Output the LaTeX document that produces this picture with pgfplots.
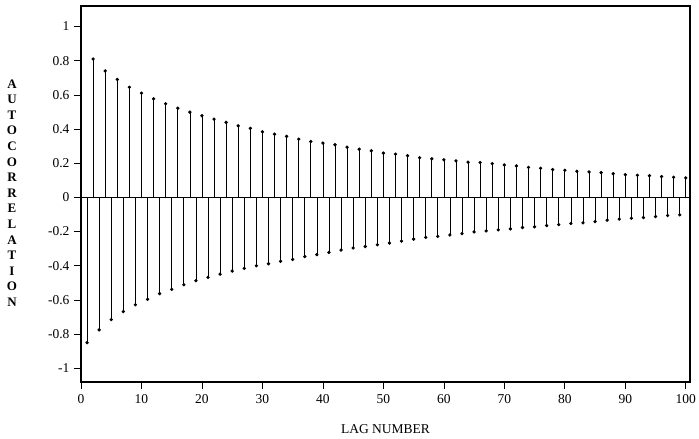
\documentclass[border=0pt]{standalone}
\usepackage{fontspec}
\setmainfont{Liberation Serif}
\usepackage{pgfplots}
\pgfplotsset{compat=1.18}
\begin{document}
\begin{tikzpicture}
\path[use as bounding box] (0,0) rectangle (699pt,439pt);
\begin{axis}[
  at={(81pt,57pt)}, anchor=south west,
  scale only axis, width=609pt, height=376pt,
  xmin=0, xmax=100.7, ymin=-1.08, ymax=1.12,
  axis line style={line width=1.1pt},
  tick pos=left, tick align=outside,
  major tick length=7pt,
  every tick/.style={black, line width=0.7pt},
  xtick={0,10,20,30,40,50,60,70,80,90,100},
  xticklabels={0,10,20,30,40,50,60,70,80,90,100},
  ytick={-1,-0.8,-0.6,-0.4,-0.2,0,0.2,0.4,0.6,0.8,1},
  yticklabels={-1,-0.8,-0.6,-0.4,-0.2,0,0.2,0.4,0.6,0.8,1},
  ticklabel style={font=\fontsize{13.5}{15}\selectfont},
  xticklabel style={yshift=-2pt},
  yticklabel style={xshift=-1pt},
  xlabel={LAG NUMBER},
  xlabel style={at={(axis description cs:0.5,0)}, anchor=center, yshift=-47pt, font=\fontsize{13.5}{15}\selectfont},
  ylabel={A\\U\\T\\O\\C\\O\\R\\R\\E\\L\\A\\T\\I\\O\\N},
  ylabel style={at={(axis description cs:0,0.5)}, anchor=center, rotate=-90, xshift=-69pt, yshift=1pt, align=center, font=\bfseries\fontsize{13}{15.6}\selectfont},
  clip=false,
]
\addplot[black, line width=0.8pt] coordinates {(0,0) (100.7,0)};
\addplot[ycomb, black, line width=0.7pt, mark=*, mark size=1.3pt, mark options={fill=black}] table {
x y
1 -0.850
2 0.810
3 -0.775
4 0.740
5 -0.715
6 0.690
7 -0.668
8 0.645
9 -0.628
10 0.610
11 -0.596
12 0.577
13 -0.563
14 0.548
15 -0.538
16 0.522
17 -0.511
18 0.499
19 -0.487
20 0.478
21 -0.468
22 0.458
23 -0.449
24 0.439
25 -0.431
26 0.419
27 -0.415
28 0.404
29 -0.400
30 0.384
31 -0.388
32 0.370
33 -0.374
34 0.357
35 -0.363
36 0.341
37 -0.346
38 0.327
39 -0.335
40 0.318
41 -0.322
42 0.308
43 -0.308
44 0.294
45 -0.296
46 0.282
47 -0.287
48 0.273
49 -0.277
50 0.259
51 -0.267
52 0.253
53 -0.256
54 0.244
55 -0.244
56 0.232
57 -0.234
58 0.226
59 -0.228
60 0.220
61 -0.220
62 0.214
63 -0.212
64 0.206
65 -0.202
66 0.204
67 -0.196
68 0.198
69 -0.190
70 0.190
71 -0.184
72 0.184
73 -0.176
74 0.176
75 -0.172
76 0.171
77 -0.165
78 0.163
79 -0.159
80 0.159
81 -0.153
82 0.153
83 -0.149
84 0.149
85 -0.141
86 0.145
87 -0.133
88 0.139
89 -0.127
90 0.133
91 -0.122
92 0.130
93 -0.118
94 0.127
95 -0.112
96 0.122
97 -0.106
98 0.118
99 -0.102
100 0.114
};
\end{axis}
\end{tikzpicture}
\end{document}
